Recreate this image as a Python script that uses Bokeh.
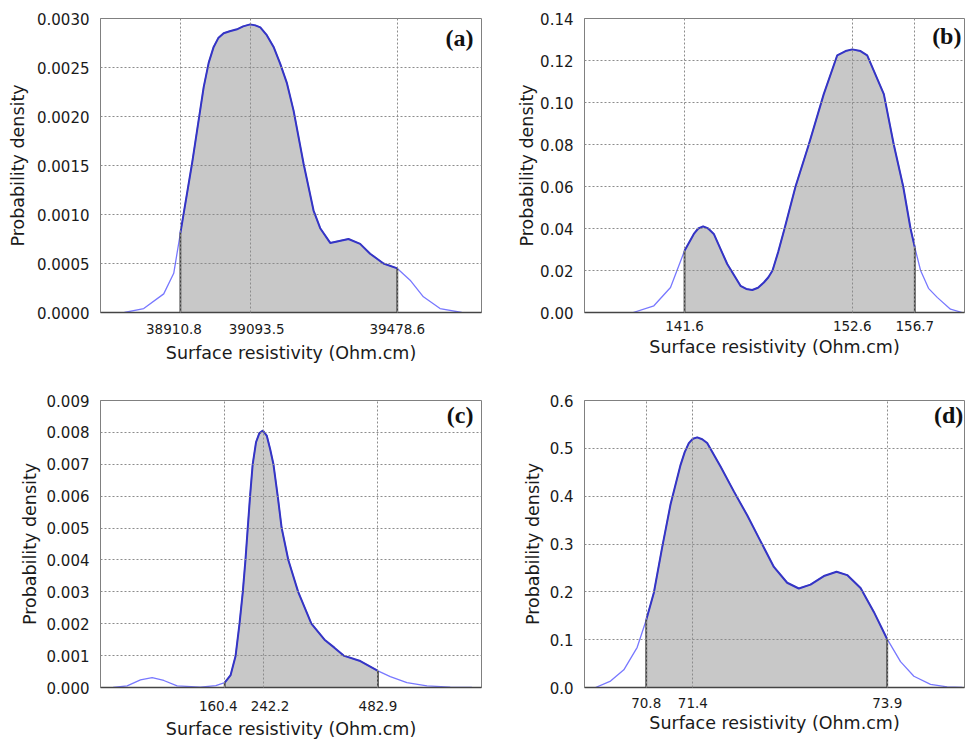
import numpy as np
from bokeh.plotting import figure
from bokeh.layouts import column, row
from bokeh.models import Range1d, FixedTicker, Label, PrintfTickFormatter
from bokeh.embed import file_html
from bokeh.resources import INLINE

# ---------------- data ----------------
# (a)
a_x = [38764.4, 38814.9, 38867.2, 38893.4, 38910.8, 38941.3, 38971.8, 38985.0, 38997.9, 39010.0,
       39024.1, 39040.0, 39058.9, 39075.0, 39093.5, 39107.0, 39120.0, 39137.0, 39154.8, 39172.0,
       39189.7, 39207.1, 39233.2, 39259.4, 39276.8, 39303.0, 39350.9, 39381.4, 39407.5, 39442.4,
       39478.6, 39512.1, 39546.9, 39590.5, 39647.2]
a_y = [0.0, 0.00004, 0.00019, 0.00040, 0.00081, 0.00152, 0.00230, 0.00255, 0.00271, 0.00280,
       0.00285, 0.00287, 0.00289, 0.00292, 0.00294, 0.00293, 0.00291, 0.00283, 0.00271, 0.00254,
       0.00234, 0.00206, 0.00152, 0.00104, 0.00086, 0.00071, 0.00075, 0.00070, 0.00060, 0.00050,
       0.00045, 0.00033, 0.00016, 0.00004, 0.0]
a_bounds = [38910.8, 39478.6]
a_xticks = [38910.8, 39093.5, 39478.6]
a_xlabels = ["38910.8\u00a0\u00a0\u00a0", "\u00a0\u00a0\u00a039093.5", "39478.6"]
a_yticks = [0.0, 0.0005, 0.0010, 0.0015, 0.0020, 0.0025, 0.0030]

# (b)
b_x = [138.23, 139.59, 140.68, 141.6, 142.21, 142.5, 142.82, 143.15, 143.52, 144.40,
       145.27, 145.65, 146.04, 146.42, 146.80, 147.10, 147.37, 147.75, 148.16, 148.88,
       149.75, 150.73, 151.61, 152.16, 152.6, 153.14, 153.58, 154.67, 155.32, 155.94,
       156.42, 156.7, 157.08, 157.6, 158.17, 159.04, 159.81]
b_y = [0.0, 0.0032, 0.0119, 0.0294, 0.0374, 0.0400, 0.0410, 0.0400, 0.0374, 0.0231,
       0.0127, 0.0112, 0.0107, 0.0118, 0.0143, 0.0168, 0.0200, 0.0290, 0.0400, 0.0600,
       0.0800, 0.1040, 0.1224, 0.1245, 0.1253, 0.1245, 0.1224, 0.1040, 0.0800, 0.0600,
       0.0400, 0.0310, 0.0200, 0.0115, 0.0072, 0.0016, 0.0]
b_bounds = [141.6, 156.7]
b_xticks = [141.6, 152.6, 156.7]
b_xlabels = ["141.6", "152.6", "156.7"]
b_yticks = [0.0, 0.02, 0.04, 0.06, 0.08, 0.10, 0.12, 0.14]

# (c)
c_x = [-74.4, -44.9, -16.9, 7.7, 32.2, 60.2, 109.3, 141.7, 160.4, 172.9,
       183.3, 191.6, 198.5, 204.1, 208.9, 213.8, 219.3, 226.3, 233.2, 240.8,
       249.1, 256.0, 263.0, 272.0, 280.3, 294.3, 315.0, 342.8, 370.5, 391.2,
       410.7, 445.8, 482.9, 508.9, 543.9, 586.0, 635.1, 680.6]
c_y = [0.0, 0.00005, 0.00024, 0.00031, 0.00022, 0.00005, 0.00001, 0.00006, 0.00015, 0.00039,
       0.00099, 0.0020, 0.0030, 0.0040, 0.0050, 0.0060, 0.0070, 0.00769, 0.00797, 0.00806,
       0.00789, 0.00748, 0.0070, 0.0060, 0.0050, 0.0040, 0.0030, 0.0020, 0.0015, 0.00125,
       0.00100, 0.00083, 0.00052, 0.00034, 0.00015, 0.00005, 0.00001, 0.0]
c_bounds = [160.4, 482.9]
c_xticks = [160.4, 242.2, 482.9]
c_xlabels = ["160.4\u00a0\u00a0\u00a0", "\u00a0\u00a0\u00a0242.2", "482.9"]
c_yticks = [0.0, 0.001, 0.002, 0.003, 0.004, 0.005, 0.006, 0.007, 0.008, 0.009]

# (d)
d_x = [70.148, 70.341, 70.512, 70.684, 70.8, 70.898, 71.005, 71.113, 71.241, 71.295,
       71.348, 71.40, 71.456, 71.52, 71.584, 71.756, 71.927, 72.099, 72.270, 72.442,
       72.613, 72.763, 72.913, 73.085, 73.248, 73.385, 73.557, 73.728, 73.9, 74.071,
       74.243, 74.457, 74.671, 74.864]
d_y = [0.0, 0.0135, 0.037, 0.084, 0.141, 0.198, 0.293, 0.383, 0.465, 0.492,
       0.511, 0.520, 0.523, 0.519, 0.511, 0.462, 0.410, 0.360, 0.306, 0.252,
       0.219, 0.207, 0.215, 0.233, 0.242, 0.235, 0.208, 0.158, 0.101, 0.054,
       0.0235, 0.0067, 0.0013, 0.0]
d_bounds = [70.8, 73.9]
d_xticks = [70.8, 71.4, 73.9]
d_xlabels = ["70.8", "71.4", "73.9"]
d_yticks = [0.0, 0.1, 0.2, 0.3, 0.4, 0.5, 0.6]

XLABEL = "Surface resistivity (Ohm.cm)"
YLABEL = "Probability density"

FONT = "DejaVu Sans"
TXT = "#1a1a1a"


def panel(x, y, bounds, xticks, xlabels, yticks, yfmt, xr, yr, tag, size, borders,
          tick_std, lab_std, ylab_std, tag_off):
    w, h = size
    bl, br, bt, bb = borders
    p = figure(width=w, height=h, x_range=Range1d(*xr), y_range=Range1d(*yr),
               output_backend="svg", toolbar_location=None,
               min_border_left=bl, min_border_right=br, min_border_top=bt, min_border_bottom=bb)
    p.background_fill_color = "white"
    p.border_fill_color = "white"
    p.outline_line_color = "#808080"
    p.outline_line_width = 1

    x = np.array(x)
    y = np.array(y)
    lo, hi = bounds
    m = (x >= lo - 1e-9) & (x <= hi + 1e-9)

    # shaded interval
    p.varea(x=x[m], y1=np.zeros(m.sum()), y2=y[m], fill_color="#c8c8c8", fill_alpha=1.0)
    # full light curve
    p.line(x, y, line_color="#7878ff", line_width=1.3)
    # emphasised curve inside the interval
    p.line(x[m], y[m], line_color="#3535c4", line_width=2.0)
    # interval boundary lines
    p.segment(x0=[lo, hi], y0=[0, 0], x1=[lo, hi], y1=[y[m][0], y[m][-1]],
              line_color="#404040", line_width=1.8)

    # axes
    p.xaxis.ticker = FixedTicker(ticks=xticks)
    p.yaxis.ticker = FixedTicker(ticks=yticks)
    p.xaxis.major_label_overrides = {t: s for t, s in zip(xticks, xlabels)}
    p.yaxis.formatter = PrintfTickFormatter(format=yfmt)
    for ax in (p.xaxis[0], p.yaxis[0]):
        ax.major_tick_line_color = None
        ax.minor_tick_line_color = None
        ax.major_label_text_font = FONT
        ax.major_label_text_color = TXT
        ax.axis_label_text_font = FONT
        ax.axis_label_text_font_style = "normal"
        ax.axis_label_text_color = TXT
        ax.axis_label_text_font_size = "17.5px"
    p.xaxis.axis_label = XLABEL
    p.yaxis.axis_label = YLABEL
    p.xaxis.major_label_text_font_size = "13.5px"
    p.yaxis.major_label_text_font_size = "15px"
    p.xaxis.axis_line_color = "#444444"
    p.xaxis.axis_line_width = 1.5
    p.yaxis.axis_line_color = "#808080"
    p.xaxis.major_label_standoff = tick_std
    p.yaxis.major_label_standoff = 5
    p.xaxis.axis_label_standoff = lab_std
    p.yaxis.axis_label_standoff = ylab_std

    # dotted grid drawn on top
    for g in (p.xgrid[0], p.ygrid[0]):
        g.grid_line_color = "#8c8c8c"
        g.grid_line_dash = "2 2"
        g.grid_line_width = 1
        g.level = "overlay"
    p.xgrid.ticker = FixedTicker(ticks=xticks)
    p.ygrid.ticker = FixedTicker(ticks=yticks)

    fx, fy = tag_off
    lab = Label(x=xr[1] - fx * (xr[1] - xr[0]), y=yr[1] - fy * (yr[1] - yr[0]),
                text=tag, text_align="right", text_baseline="middle",
                text_font="Liberation Serif", text_font_style="bold",
                text_font_size="24px", text_color="#111111")
    p.add_layout(lab)
    return p


pa = panel(a_x, a_y, a_bounds, a_xticks, a_xlabels, a_yticks, "%.4f", (38701.7, 39699.0), (0, 0.003),
           "(a)", (501, 370), (100, 20, 18, 58), 2, 3, 6, (0.021, 0.068))
pb = panel(b_x, b_y, b_bounds, b_xticks, b_xlabels, b_yticks, "%.2f", (135.04, 159.96), (0, 0.14),
           "(b)", (464, 370), (83, 1, 18, 58), 2, 3, 0, (0.008, 0.058))
pc = panel(c_x, c_y, c_bounds, c_xticks, c_xlabels, c_yticks, "%.3f", (-101.0, 700.9), (0, 0.009),
           "(c)", (501, 371), (100, 20, 30, 46), 4, 2, 4, (0.021, 0.050))
pd = panel(d_x, d_y, d_bounds, d_xticks, d_xlabels, d_yticks, "%.1f", (70.006, 74.894), (0, 0.6),
           "(d)", (464, 371), (83, 1, 30, 46), 4, 2, 4, (0.003, 0.050))

layout = column(row(pa, pb), row(pc, pd))

open("out.html", "w").write(file_html(layout, INLINE))
